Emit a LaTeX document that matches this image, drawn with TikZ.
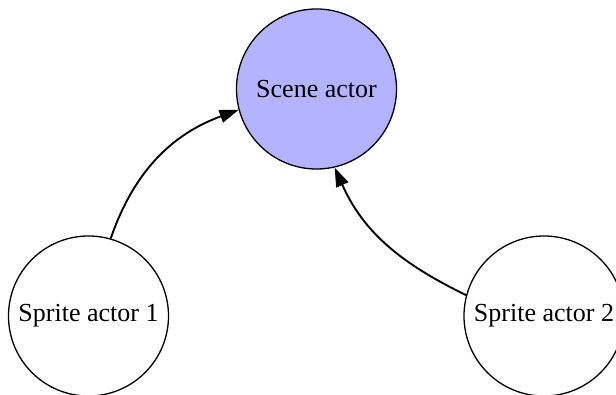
\documentclass[tikz,border=0pt]{standalone}
\usepackage{fontspec}
\setmainfont{Liberation Serif}
\usetikzlibrary{arrows.meta}
\definecolor{scenefill}{RGB}{179,179,255}
\tikzset{
  actor/.style={circle, draw=black, line width=1.3pt, minimum size=160pt,
    inner sep=0pt, font=\fontsize{26}{30}\selectfont},
  link/.style={line width=1.9pt, -{Triangle[length=19pt, width=13pt]}}
}
\begin{document}
\begin{tikzpicture}[x=1pt, y=1pt]
  \useasboundingbox (0,0) rectangle (616,394);
  \node[actor, fill=scenefill] (scene) at (316.5,305) {Scene actor};
  \node[actor] (sprite1) at (88.5,78) {Sprite actor 1};
  \node[actor] (sprite2) at (544,78) {Sprite actor 2};
  \draw[link] (sprite1.74) to[out=71, in=200] (scene.195);
  \draw[link] (sprite2.165) to[out=154, in=294] (scene.283);
\end{tikzpicture}
\end{document}
